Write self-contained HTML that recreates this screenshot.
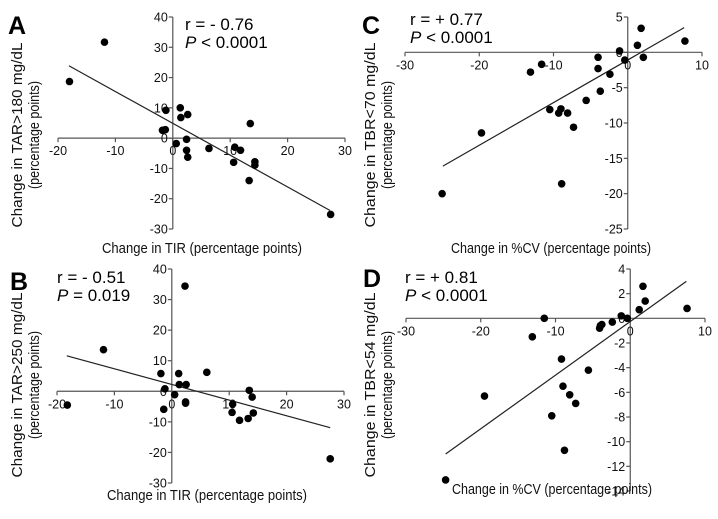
<!DOCTYPE html>
<html><head><meta charset="utf-8">
<style>
html,body{margin:0;padding:0;background:#fff;}
svg{display:block;font-family:"Liberation Sans",sans-serif;}
</style></head>
<body>
<svg id="fig" width="718" height="519" viewBox="0 0 718 519" xmlns="http://www.w3.org/2000/svg"></svg>
<script>
// Panel A data
const aX = [-18.0,-11.9,-1.2,-1.8,-1.3,1.3,1.4,2.6,0.6,2.4,2.4,2.6,6.3,10.8,10.6,11.8,13.5,13.3,14.3,14.3,27.5];
const aY = [18.7,31.7,9.2,2.6,2.8,10,6.8,7.8,-1.8,-0.4,-4.0,-6.3,-3.4,-3.0,-8.0,-4.0,4.8,-14,-7.8,-8.9,-25.2];
const aFit = [[-18.1,23.9],[27.4,-23.9]];
// Panel B data
const bX = [-18.2,-11.9,-1.9,-1.2,-1.4,1.2,1.3,2.5,0.5,2.3,2.4,2.4,6.1,10.6,10.5,11.8,13.3,13.5,14.0,14.2,27.6];
const bY = [-4.5,13.6,5.8,0.8,-5.9,5.8,2.2,2.2,-1.1,34.4,-3.5,-3.9,6.2,-4.2,-6.9,-9.5,-8.9,0.3,-1.9,-7.1,-22.1];
const bFit = [[-18.3,11.6],[27.6,-11.9]];
// Panel C data
const cX = [-25.0,-19.7,-13.1,-11.6,-10.5,-9.3,-9.0,-8.9,-8.1,-7.3,-5.6,-4.0,-4.0,-3.7,-2.4,-1.1,-0.4,1.3,1.8,2.1,7.7];
const cY = [-20.0,-11.4,-2.8,-1.7,-8.1,-8.6,-8.0,-18.6,-8.6,-10.6,-6.8,-0.7,-2.3,-5.5,-3.1,0.2,-1.1,1.0,3.4,-0.7,1.6];
const cFit = [[-24.9,-16.1],[7.6,3.5]];
// Panel D data
const dX = [-24.7,-19.5,-13.1,-11.5,-10.5,-9.2,-9.0,-8.8,-8.1,-7.3,-5.6,-4.1,-4.0,-3.8,-2.4,-1.2,-0.4,1.2,1.7,2.0,7.6];
const dY = [-13.1,-6.3,-1.5,0,-7.9,-3.3,-5.5,-10.7,-6.2,-6.9,-4.2,-0.8,-0.6,-0.5,-0.3,0.2,0,0.7,2.6,1.4,0.8];
const dFit = [[-24.7,-11.0],[7.5,3.0]];
// Tick labels
const tirTicks = [-20,-10,0,10,20,30];
const tarTicks = [40,30,20,10,0,-10,-20,-30];
const cvTicks = [-30,-20,-10,0,10];
const tbr70Ticks = [5,0,-5,-10,-15,-20,-25];
const tbr54Ticks = [4,2,0,-2,-4,-6,-8,-10,-12,-14];

const NS="http://www.w3.org/2000/svg";
const svg=document.getElementById('fig');
function mk(tag,attrs,parent,text){const e=document.createElementNS(NS,tag);for(const k in attrs)e.setAttribute(k,attrs[k]);if(text!==undefined)e.textContent=text;(parent||svg).appendChild(e);return e;}

function panel(p){
  const g=mk('g',{});
  
  
  const sx=v=>p.x0+(v-p.xmin)/(p.xmax-p.xmin)*(p.x1-p.x0);
  const sy=v=>p.y0+(p.ymax-v)/(p.ymax-p.ymin)*(p.y1-p.y0);
  const ax=sx(0), ay=sy(0);
  const axes=mk('g',{stroke:'#555','stroke-width':1.2},g);
  
  
  mk('line',{x1:sx(p.xmin),x2:sx(p.xmax),y1:ay,y2:ay},axes);
  mk('line',{x1:ax,x2:ax,y1:sy(p.ymax),y2:sy(p.ymin)},axes);
  p.xt.forEach(v=>{
    mk('line',{x1:sx(v),x2:sx(v),y1:ay,y2:ay+4},axes);
    const t=mk('text',{x:sx(v),y:ay+17,'text-anchor':'middle','font-size':12.5,fill:'#111'},g,String(v));
    
    
  });
  p.yt.forEach(v=>{
    mk('line',{x1:ax-4,x2:ax,y1:sy(v),y2:sy(v)},axes);
    const t=mk('text',{x:ax-5,y:sy(v)+4.5,'text-anchor':'end','font-size':12.5,fill:'#111'},g,String(v));
    
    
  });
  const fl=mk('line',{x1:sx(p.fit[0][0]),y1:sy(p.fit[0][1]),x2:sx(p.fit[1][0]),y2:sy(p.fit[1][1]),stroke:'#222','stroke-width':1.2},g);
  
  
  p.xs.forEach((v,i)=>{
    const c=mk('circle',{cx:sx(v),cy:sy(p.ys[i]),r:3.8,fill:'#000'},g);
    
    
  });
  const L=mk('text',{x:p.lx,y:p.ly,'font-size':25,'font-weight':'bold',fill:'#000'},g,p.id);
  
  
  const r=mk('text',{x:p.sx,y:p.sy,'font-size':17,fill:'#000'},g,p.r);
  
  
  const pv=mk('text',{x:p.sx,y:p.sy+18,'font-size':17,fill:'#000'},g);
  
  
  mk('tspan',{'font-style':'italic'},pv,'P');
  mk('tspan',{},pv,p.p);
  const xt=mk('text',{x:p.xtx,y:p.xty,'text-anchor':'middle','font-size':15,fill:'#111',textLength:200,lengthAdjust:'spacingAndGlyphs'},g,p.xtitle);
  
  
  const yt=mk('text',{transform:`translate(${p.ytx},${p.yty}) rotate(-90)`,'text-anchor':'middle','font-size':15,fill:'#111'},g);
  
  
  mk('tspan',{x:0,y:0,textLength:185,lengthAdjust:'spacingAndGlyphs'},yt,p.ytitle);
  mk('tspan',{x:0,y:17,textLength:108,lengthAdjust:'spacingAndGlyphs'},yt,'(percentage points)');
}

panel({id:'A',xs:aX,ys:aY,fit:aFit,xmin:-20,xmax:30,ymin:-30,ymax:40,x0:58,x1:345,y0:17,y1:229,xt:tirTicks,yt:tarTicks,
  lx:8,ly:34,sx:185,sy:30,r:'r = - 0.76',p:' < 0.0001',xtitle:'Change in TIR (percentage points)',xtx:202,xty:253,
  ytitle:'Change in TAR>180 mg/dL',ytx:22,yty:135});
panel({id:'B',xs:bX,ys:bY,fit:bFit,xmin:-20,xmax:30,ymin:-30,ymax:40,x0:57,x1:344,y0:269,y1:483,xt:tirTicks,yt:tarTicks,
  lx:10,ly:290,sx:57,sy:283,r:'r = - 0.51',p:' = 0.019',xtitle:'Change in TIR (percentage points)',xtx:207,xty:500,
  ytitle:'Change in TAR>250 mg/dL',ytx:22,yty:385});
panel({id:'C',xs:cX,ys:cY,fit:cFit,xmin:-30,xmax:10,ymin:-25,ymax:5,x0:405,x1:702,y0:17,y1:229,xt:cvTicks,yt:tbr70Ticks,
  lx:362,ly:34,sx:410,sy:25,r:'r = + 0.77',p:' < 0.0001',xtitle:'Change in %CV (percentage points)',xtx:551,xty:253,
  ytitle:'Change in TBR<70 mg/dL',ytx:375,yty:135});
panel({id:'D',xs:dX,ys:dY,fit:dFit,xmin:-30,xmax:10,ymin:-14,ymax:4,x0:406,x1:705,y0:269,y1:491,xt:cvTicks,yt:tbr54Ticks,
  lx:363,ly:287,sx:405,sy:283,r:'r = + 0.81',p:' < 0.0001',xtitle:'Change in %CV (percentage points)',xtx:552,xty:494,
  ytitle:'Change in TBR<54 mg/dL',ytx:375,yty:385});
</script>
</body></html>
